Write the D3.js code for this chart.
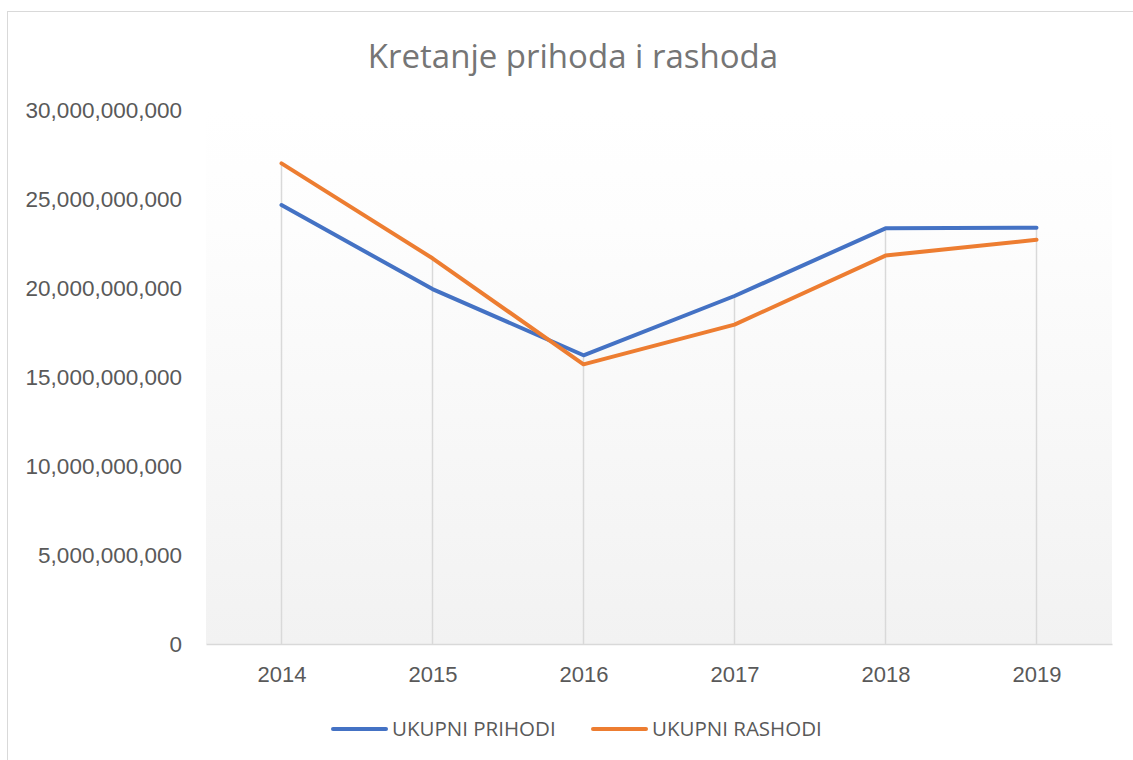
<!DOCTYPE html>
<html>
<head>
<meta charset="utf-8">
<script src="https://cdn.jsdelivr.net/npm/d3@7"></script>
<style>
  body { margin: 0; background: #fff; }
  svg { display: block; font-family: "Open Sans", sans-serif; }
</style>
</head>
<body>
<svg width="1133" height="760"></svg>
<script>
/* chart data */
var years = ["2014", "2015", "2016", "2017", "2018", "2019"];
var prihodi = [24.66e9, 19.94e9, 16.22e9, 19.55e9, 23.35e9, 23.39e9];
var rashodi = [27.0e9, 21.67e9, 15.71e9, 17.94e9, 21.82e9, 22.71e9];
var yTicks = [0, 5e9, 10e9, 15e9, 20e9, 25e9, 30e9];
var seriesNames = ["UKUPNI PRIHODI", "UKUPNI RASHODI"];
var colors = ["#4472c4", "#ed7d31"];

var svg = d3.select("svg"),
    margin = {top: 110, right: 21, bottom: 116, left: 206},
    width = +svg.attr("width") - margin.left - margin.right,
    height = +svg.attr("height") - margin.top - margin.bottom;

// outer chart border
svg.append("rect")
    .attr("x", 7.5).attr("y", 11.5)
    .attr("width", 1140).attr("height", 800)
    .attr("fill", "#fff")
    .attr("stroke", "#d9d9d9");

var defs = svg.append("defs");
var grad = defs.append("linearGradient")
    .attr("id", "plotbg")
    .attr("x1", 0).attr("y1", 0).attr("x2", 0).attr("y2", 1);
grad.append("stop").attr("offset", "0%").attr("stop-color", "#ffffff");
grad.append("stop").attr("offset", "22%").attr("stop-color", "#fdfdfd");
grad.append("stop").attr("offset", "100%").attr("stop-color", "#f2f2f2");

var x = d3.scalePoint().domain(years).range([0, width]).padding(0.5),
    y = d3.scaleLinear().domain([0, 30e9]).range([height, 0]);

var g = svg.append("g")
    .attr("transform", "translate(" + margin.left + "," + margin.top + ")");

g.append("rect")
    .attr("width", width).attr("height", height)
    .attr("fill", "url(#plotbg)");

/* drop lines from the higher series down to the axis */
g.selectAll(".drop")
    .data(years)
    .enter().append("line")
    .attr("class", "drop")
    .attr("x1", function (d) { return x(d); })
    .attr("x2", function (d) { return x(d); })
    .attr("y1", function (d, i) { return y(Math.max(prihodi[i], rashodi[i])); })
    .attr("y2", height)
    .attr("stroke", "#d9d9d9")
    .attr("stroke-width", 1.5);

/* x axis */
var xAxis = g.append("g")
    .attr("transform", "translate(0," + height + ")")
    .call(d3.axisBottom(x).tickSize(0).tickPadding(22));
xAxis.select(".domain").attr("stroke", "#d9d9d9").attr("stroke-width", 1.5);
xAxis.selectAll("text")
    .attr("fill", "#595959")
    .style("font-size", "22px");

/* y axis */
var yAxis = g.append("g")
    .call(d3.axisLeft(y).tickValues(yTicks).tickSize(0).tickPadding(24)
        .tickFormat(d3.format(",")));
yAxis.select(".domain").remove();
yAxis.selectAll("text")
    .attr("fill", "#595959")
    .attr("dy", "0.35em")
    .style("font-size", "22.5px");

/* lines */
var line = d3.line()
    .x(function (d, i) { return x(years[i]); })
    .y(function (d) { return y(d); });

[prihodi, rashodi].forEach(function (s, i) {
    g.append("path")
        .datum(s)
        .attr("fill", "none")
        .attr("stroke", colors[i])
        .attr("stroke-width", 4)
        .attr("stroke-linejoin", "round")
        .attr("stroke-linecap", "round")
        .attr("d", line);
});

/* title */
svg.append("text")
    .attr("x", 573)
    .attr("y", 68)
    .attr("text-anchor", "middle")
    .attr("fill", "#757575")
    .style("font-size", "33px")
    .text("Kretanje prihoda i rashoda");

/* legend */
var legendX = [333, 593];
var legend = svg.selectAll(".legend")
    .data(seriesNames)
    .enter().append("g")
    .attr("class", "legend")
    .attr("transform", function (d, i) { return "translate(" + legendX[i] + ",729)"; });
legend.append("line")
    .attr("x1", 0).attr("x2", 53)
    .attr("stroke", function (d, i) { return colors[i]; })
    .attr("stroke-width", 4)
    .attr("stroke-linecap", "round");
legend.append("text")
    .attr("x", 59)
    .attr("dy", "0.35em")
    .attr("fill", "#595959")
    .style("font-size", "20.5px")
    .text(function (d) { return d; });
</script>
</body>
</html>
